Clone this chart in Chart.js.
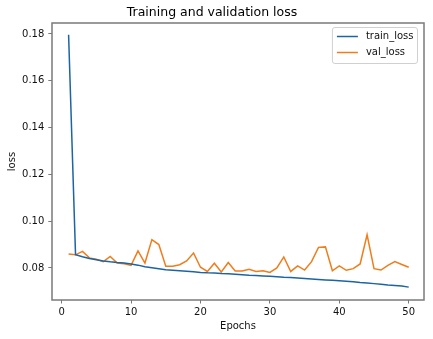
<!DOCTYPE html>
<html>
<head>
<meta charset="utf-8">
<script src="https://cdn.jsdelivr.net/npm/chart.js@4/dist/chart.umd.min.js"></script>
<style>
html,body{margin:0;padding:0;background:#fff;}
#wrap{width:433px;height:339px;position:relative;}
</style>
</head>
<body>
<div id="wrap"><canvas id="c" width="433" height="339"></canvas></div>
<script>
const epochs = [1,2,3,4,5,6,7,8,9,10,11,12,13,14,15,16,17,18,19,20,21,22,23,24,25,26,27,28,29,30,31,32,33,34,35,36,37,38,39,40,41,42,43,44,45,46,47,48,49,50];
const trainLoss = [0.1797,0.0857,0.0848,0.0840,0.0835,0.0830,0.0826,0.0823,0.0821,0.0817,0.0812,0.0805,0.0801,0.0797,0.0792,0.0790,0.0788,0.0786,0.0784,0.0781,0.0779,0.0778,0.0776,0.0775,0.0773,0.0771,0.0769,0.0768,0.0766,0.0764,0.0762,0.0760,0.0759,0.0757,0.0755,0.0753,0.0751,0.0749,0.0747,0.0745,0.0743,0.0741,0.0738,0.0736,0.0733,0.0730,0.0727,0.0725,0.0723,0.0718];
const valLoss = [0.0860,0.0856,0.0871,0.0843,0.0837,0.0827,0.0849,0.0821,0.0818,0.0811,0.0873,0.0821,0.0921,0.0900,0.0807,0.0807,0.0814,0.0830,0.0864,0.0803,0.0785,0.0820,0.0783,0.0823,0.0787,0.0787,0.0794,0.0785,0.0788,0.0781,0.0800,0.0847,0.0785,0.0809,0.0791,0.0827,0.0888,0.0890,0.0788,0.0809,0.0790,0.0797,0.0817,0.0942,0.0797,0.0791,0.0811,0.0827,0.0815,0.0803];
const xTicks = [0,10,20,30,40,50];
const yTicks = [0.08,0.10,0.12,0.14,0.16,0.18];
const seriesNames = ['train_loss','val_loss'];
const seriesColors = ['#1c65a2','#ef7d1c'];
const titleText = 'Training and validation loss';
const xTitle = 'Epochs';
const yTitle = 'loss';

const FONT = 'DejaVu Sans';
const frameColor = '#7a7a7a';
const SMALL = 10;

const framePlugin = {
  id: 'frame',
  afterDatasetsDraw(chart) {
    const {ctx, chartArea: a} = chart;
    ctx.save();
    ctx.strokeStyle = frameColor;
    ctx.lineWidth = 1.5;
    ctx.strokeRect(a.left, a.top, a.right - a.left, a.bottom - a.top);
    ctx.restore();
  }
};

const legendPlugin = {
  id: 'innerLegend',
  afterDraw(chart) {
    const {ctx, chartArea: a} = chart;
    const ds = chart.data.datasets;
    ctx.save();
    ctx.font = SMALL + 'px "' + FONT + '"';
    const rowH = 16;
    const lineLen = 21;
    let maxW = 0;
    ds.forEach(d => { maxW = Math.max(maxW, ctx.measureText(d.label).width); });
    const w = 4.5 + lineLen + 8 + maxW + 4;
    const h = ds.length * rowH + 4;
    const x = a.right - 6.5 - w;
    const y = a.top + 4.5;
    const r = 2.5;
    ctx.beginPath();
    ctx.moveTo(x + r, y);
    ctx.lineTo(x + w - r, y);
    ctx.quadraticCurveTo(x + w, y, x + w, y + r);
    ctx.lineTo(x + w, y + h - r);
    ctx.quadraticCurveTo(x + w, y + h, x + w - r, y + h);
    ctx.lineTo(x + r, y + h);
    ctx.quadraticCurveTo(x, y + h, x, y + h - r);
    ctx.lineTo(x, y + r);
    ctx.quadraticCurveTo(x, y, x + r, y);
    ctx.closePath();
    ctx.fillStyle = 'rgba(255,255,255,0.85)';
    ctx.fill();
    ctx.strokeStyle = '#d0d0d0';
    ctx.lineWidth = 1;
    ctx.stroke();
    ds.forEach((d, i) => {
      const cy = y + 9 + i * rowH;
      ctx.strokeStyle = d.borderColor;
      ctx.lineWidth = 1.5;
      ctx.beginPath();
      ctx.moveTo(x + 4.5, cy);
      ctx.lineTo(x + 4.5 + lineLen, cy);
      ctx.stroke();
      ctx.fillStyle = '#111';
      ctx.textBaseline = 'middle';
      ctx.textAlign = 'left';
      ctx.fillText(d.label, x + 4.5 + lineLen + 8, cy);
    });
    ctx.restore();
  }
};

const datasets = [trainLoss, valLoss].map((vals, i) => ({
  label: seriesNames[i],
  data: epochs.map((e, j) => ({x: e, y: vals[j]})),
  borderColor: seriesColors[i],
  backgroundColor: seriesColors[i],
  borderWidth: 1.5,
  pointRadius: 0,
  tension: 0,
  fill: false
}));

new Chart(document.getElementById('c'), {
  type: 'line',
  data: { datasets },
  options: {
    responsive: false,
    animation: false,
    events: [],
    layout: { padding: { top: 0, right: 9, bottom: 0, left: 0 } },
    plugins: {
      legend: { display: false },
      tooltip: { enabled: false },
      title: {
        display: true,
        text: titleText,
        color: '#000',
        font: { family: FONT, size: 12.5, weight: 'normal', lineHeight: 1.2 },
        padding: { top: 5.2, bottom: 2.8 }
      }
    },
    scales: {
      x: {
        type: 'linear',
        min: -1.39,
        max: 52.2,
        afterFit(s) { s.height = 39; },
        afterBuildTicks(s) { s.ticks = xTicks.map(v => ({value: v})); },
        ticks: {
          color: '#111',
          font: { family: FONT, size: SMALL },
          padding: 2.5,
          maxRotation: 0,
          autoSkip: false
        },
        grid: { drawOnChartArea: false, drawTicks: true, tickLength: 3.5, color: frameColor, lineWidth: 1 },
        border: { display: false },
        title: {
          display: true,
          text: xTitle,
          color: '#111',
          font: { family: FONT, size: SMALL, lineHeight: 1.2 },
          padding: { top: 7, bottom: 7 }
        }
      },
      y: {
        type: 'linear',
        min: 0.0663,
        max: 0.1847,
        afterFit(s) { s.width = 52; },
        afterBuildTicks(s) { s.ticks = yTicks.map(v => ({value: v})); },
        ticks: {
          color: '#111',
          font: { family: FONT, size: SMALL },
          padding: 4,
          callback: v => v.toFixed(2),
          autoSkip: false
        },
        grid: { drawOnChartArea: false, drawTicks: true, tickLength: 3.7, color: frameColor, lineWidth: 1 },
        border: { display: false },
        title: {
          display: true,
          text: yTitle,
          color: '#111',
          font: { family: FONT, size: SMALL, lineHeight: 1.2 },
          padding: { top: 6.3, bottom: 6.3 }
        }
      }
    }
  },
  plugins: [framePlugin, legendPlugin]
});
</script>
</body>
</html>
